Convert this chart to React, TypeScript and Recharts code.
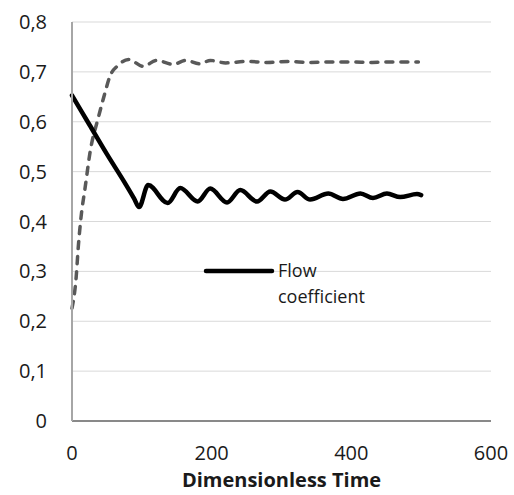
import { LineChart, Line, XAxis, YAxis, CartesianGrid } from 'recharts'

// solid series (Flow coefficient)
const flowTime = [0, 25, 50, 75, 89, 96, 109, 137, 155, 180, 198, 222, 241, 265, 284, 305, 323, 341, 367, 388, 413, 431, 451, 470, 494, 500]
const flowValue = [0.653, 0.594, 0.535, 0.479, 0.446, 0.429, 0.473, 0.437, 0.467, 0.44, 0.466, 0.438, 0.463, 0.44, 0.46, 0.444, 0.459, 0.444, 0.456, 0.445, 0.456, 0.447, 0.456, 0.449, 0.455, 0.453]

// dashed series (no legend entry in the original)
const otherTime = [0, 6, 9, 12.5, 19, 26, 38, 47, 54, 66, 81, 102, 121, 145, 163, 183, 198, 220, 250, 280, 310, 340, 370, 400, 430, 460, 496]
const otherValue = [0.226, 0.289, 0.349, 0.403, 0.47, 0.54, 0.61, 0.657, 0.69, 0.713, 0.725, 0.711, 0.723, 0.715, 0.723, 0.716, 0.723, 0.718, 0.721, 0.719, 0.721, 0.719, 0.72, 0.72, 0.719, 0.72, 0.72]

const flowName = 'Flow coefficient'

const xTicks = [0, 200, 400, 600]
const yTicks = [0, 0.1, 0.2, 0.3, 0.4, 0.5, 0.6, 0.7, 0.8]

const flowData = flowTime.map((t, i) => ({ t, v: flowValue[i] }))
const otherData = otherTime.map((t, i) => ({ t, v: otherValue[i] }))

const font = '"Open Sans", sans-serif'
const tickStyle = { fill: '#1a1a1a', fontSize: 20, fontFamily: font }

const fmtY = (v: number) => (v === 0 ? '0' : v.toFixed(1).replace('.', ','))

// legend sits inside the plot, so it's drawn as an overlay instead of <Legend>
function FlowLegend() {
  return (
    <div style={{ position: 'absolute', left: 202, top: 257, display: 'flex', alignItems: 'flex-start' }}>
      <svg width={76} height={26}>
        <line x1={4} y1={14} x2={70} y2={14} stroke="#000" strokeWidth={4.5} strokeLinecap="round" />
      </svg>
      <div style={{ width: 104, fontFamily: font, fontSize: 18, lineHeight: '26px', color: '#1a1a1a' }}>
        {flowName}
      </div>
    </div>
  )
}

export default function App() {
  return (
    <div style={{ position: 'absolute', left: 0, top: 0, width: 514, height: 495, background: '#fff' }}>
      <LineChart width={514} height={495} margin={{ top: 22, right: 23, left: 12, bottom: 0 }}>
        <CartesianGrid vertical={false} stroke="#d9d9d9" strokeWidth={1} />
        <XAxis
          dataKey="t"
          type="number"
          domain={[0, 600]}
          ticks={xTicks}
          axisLine={{ stroke: '#898989', strokeWidth: 2 }}
          tickLine={false}
          tickSize={0}
          tickMargin={25}
          height={74}
          tick={tickStyle}
          allowDuplicatedCategory={false}
          label={{
            value: 'Dimensionless Time',
            position: 'insideBottom',
            offset: 8,
            style: { fill: '#1a1a1a', fontSize: 20, fontWeight: 700, fontFamily: font },
          }}
        />
        <YAxis
          type="number"
          domain={[0, 0.8]}
          ticks={yTicks}
          tickFormatter={fmtY}
          axisLine={{ stroke: '#a6a6a6', strokeWidth: 2 }}
          tickLine={false}
          tickSize={0}
          tickMargin={25}
          width={60}
          tick={tickStyle}
        />
        <Line
          data={otherData}
          dataKey="v"
          name="Other coefficient"
          type="monotone"
          stroke="#595959"
          strokeWidth={3.5}
          strokeDasharray="7 8"
          strokeLinecap="round"
          dot={false}
          isAnimationActive={false}
        />
        <Line
          data={flowData}
          dataKey="v"
          name={flowName}
          type="monotone"
          stroke="#000"
          strokeWidth={4.5}
          strokeLinecap="round"
          dot={false}
          isAnimationActive={false}
        />
      </LineChart>
      <FlowLegend />
    </div>
  )
}
